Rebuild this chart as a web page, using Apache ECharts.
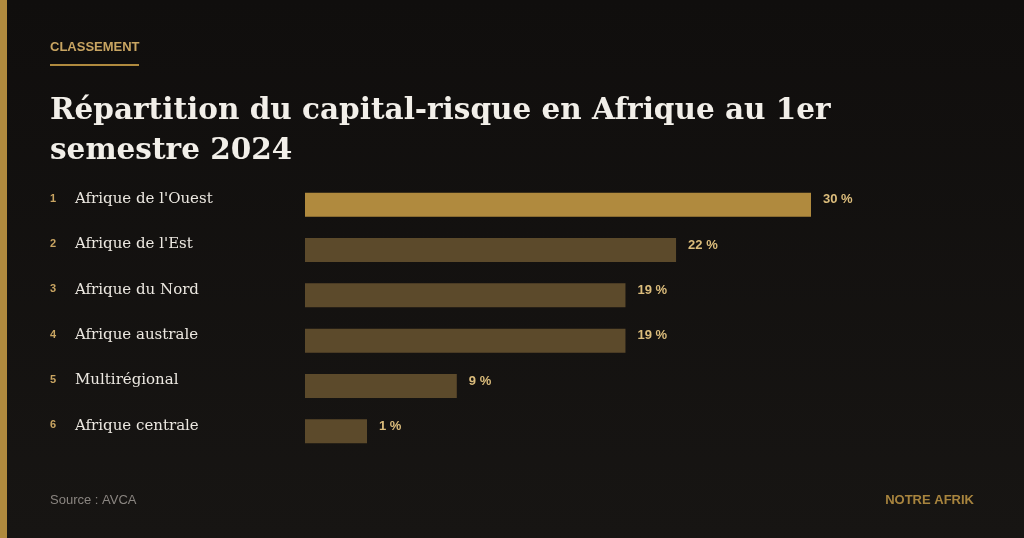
<!DOCTYPE html>
<html>
<head>
<meta charset="utf-8">
<script src="https://cdn.jsdelivr.net/npm/echarts@6/dist/echarts.min.js"></script>
<style>
  html, body { margin: 0; padding: 0; background: #131110; }
  #chart { width: 1024px; height: 538px; }
</style>
</head>
<body>
<div id="chart"></div>
<script>
// data
var ranks = ['1', '2', '3', '4', '5', '6'];
var regions = ["Afrique de l'Ouest", "Afrique de l'Est", 'Afrique du Nord', 'Afrique australe', 'Multirégional', 'Afrique centrale'];
var shares = [30, 22, 19, 19, 9, 1];

var gold = '#b08a3e';
var brown = '#5c4a2b';
var sans = 'Liberation Sans, Arial, sans-serif';
var serif = 'DejaVu Serif, Georgia, serif';

var chart = echarts.init(document.getElementById('chart'));

var option = {
	backgroundColor: {
		type: 'linear', x: 0, y: 0, x2: 0, y2: 1,
		colorStops: [{ offset: 0, color: '#100e0d' }, { offset: 1, color: '#171513' }]
	},
	animation: false,
	title: [{
		text: 'CLASSEMENT',
		left: 50,
		top: 41,
		padding: 0,
		textStyle: { color: '#c9a562', fontSize: 13, fontWeight: 'bold', fontFamily: sans }
	}, {
		text: 'Répartition du capital-risque en Afrique au 1er\nsemestre 2024',
		left: 50,
		top: 91,
		padding: 0,
		textStyle: {
			color: '#f2efe9', fontSize: 29.5, fontWeight: 'bold', lineHeight: 40,
			fontFamily: serif
		}
	}, {
		text: 'Source : AVCA',
		left: 50,
		top: 494,
		padding: 0,
		textStyle: { color: '#8a8580', fontSize: 13, fontWeight: 'normal', fontFamily: sans }
	}, {
		text: 'NOTRE AFRIK',
		right: 50,
		top: 494,
		padding: 0,
		textStyle: { color: '#a8843e', fontSize: 13, fontWeight: 'bold', fontFamily: sans }
	}],
	graphic: [
		{ type: 'rect', left: 0, top: 0, shape: { width: 7, height: 538 }, style: { fill: gold } },
		{ type: 'rect', left: 50, top: 64, shape: { width: 89, height: 2 }, style: { fill: gold } }
	],
	grid: {
		left: 305,
		right: 213,
		top: 182,
		height: 272,
		containLabel: false
	},
	xAxis: {
		type: 'value',
		min: 0,
		max: 30,
		show: false
	},
	yAxis: {
		type: 'category',
		inverse: true,
		data: regions,
		axisLine: { show: false },
		axisTick: { show: false },
		splitLine: { show: false },
		axisLabel: {
			align: 'left',
			margin: 255,
			formatter: function(val, i) {
				return '{rank|' + ranks[i] + '}{name|' + val + '}';
			},
			rich: {
				rank: { color: '#c9a562', fontSize: 11, fontWeight: 'bold', width: 25, fontFamily: sans, padding: [0, 0, 12, 0] },
				name: { color: '#ece8e1', fontSize: 15, fontFamily: serif, padding: [0, 0, 11, 0] }
			}
		}
	},
	series: [{
		type: 'bar',
		data: shares.map(function(v, i) {
			return { value: v, itemStyle: { color: i === 0 ? gold : brown } };
		}),
		barWidth: 24,
		barMinHeight: 62,
		label: {
			show: true,
			position: 'right',
			distance: 12,
			offset: [0, -5],
			formatter: '{c} %',
			color: '#dcbd7c',
			fontSize: 13,
			fontWeight: 'bold',
			fontFamily: sans
		}
	}]
};

chart.setOption(option);
</script>
</body>
</html>
